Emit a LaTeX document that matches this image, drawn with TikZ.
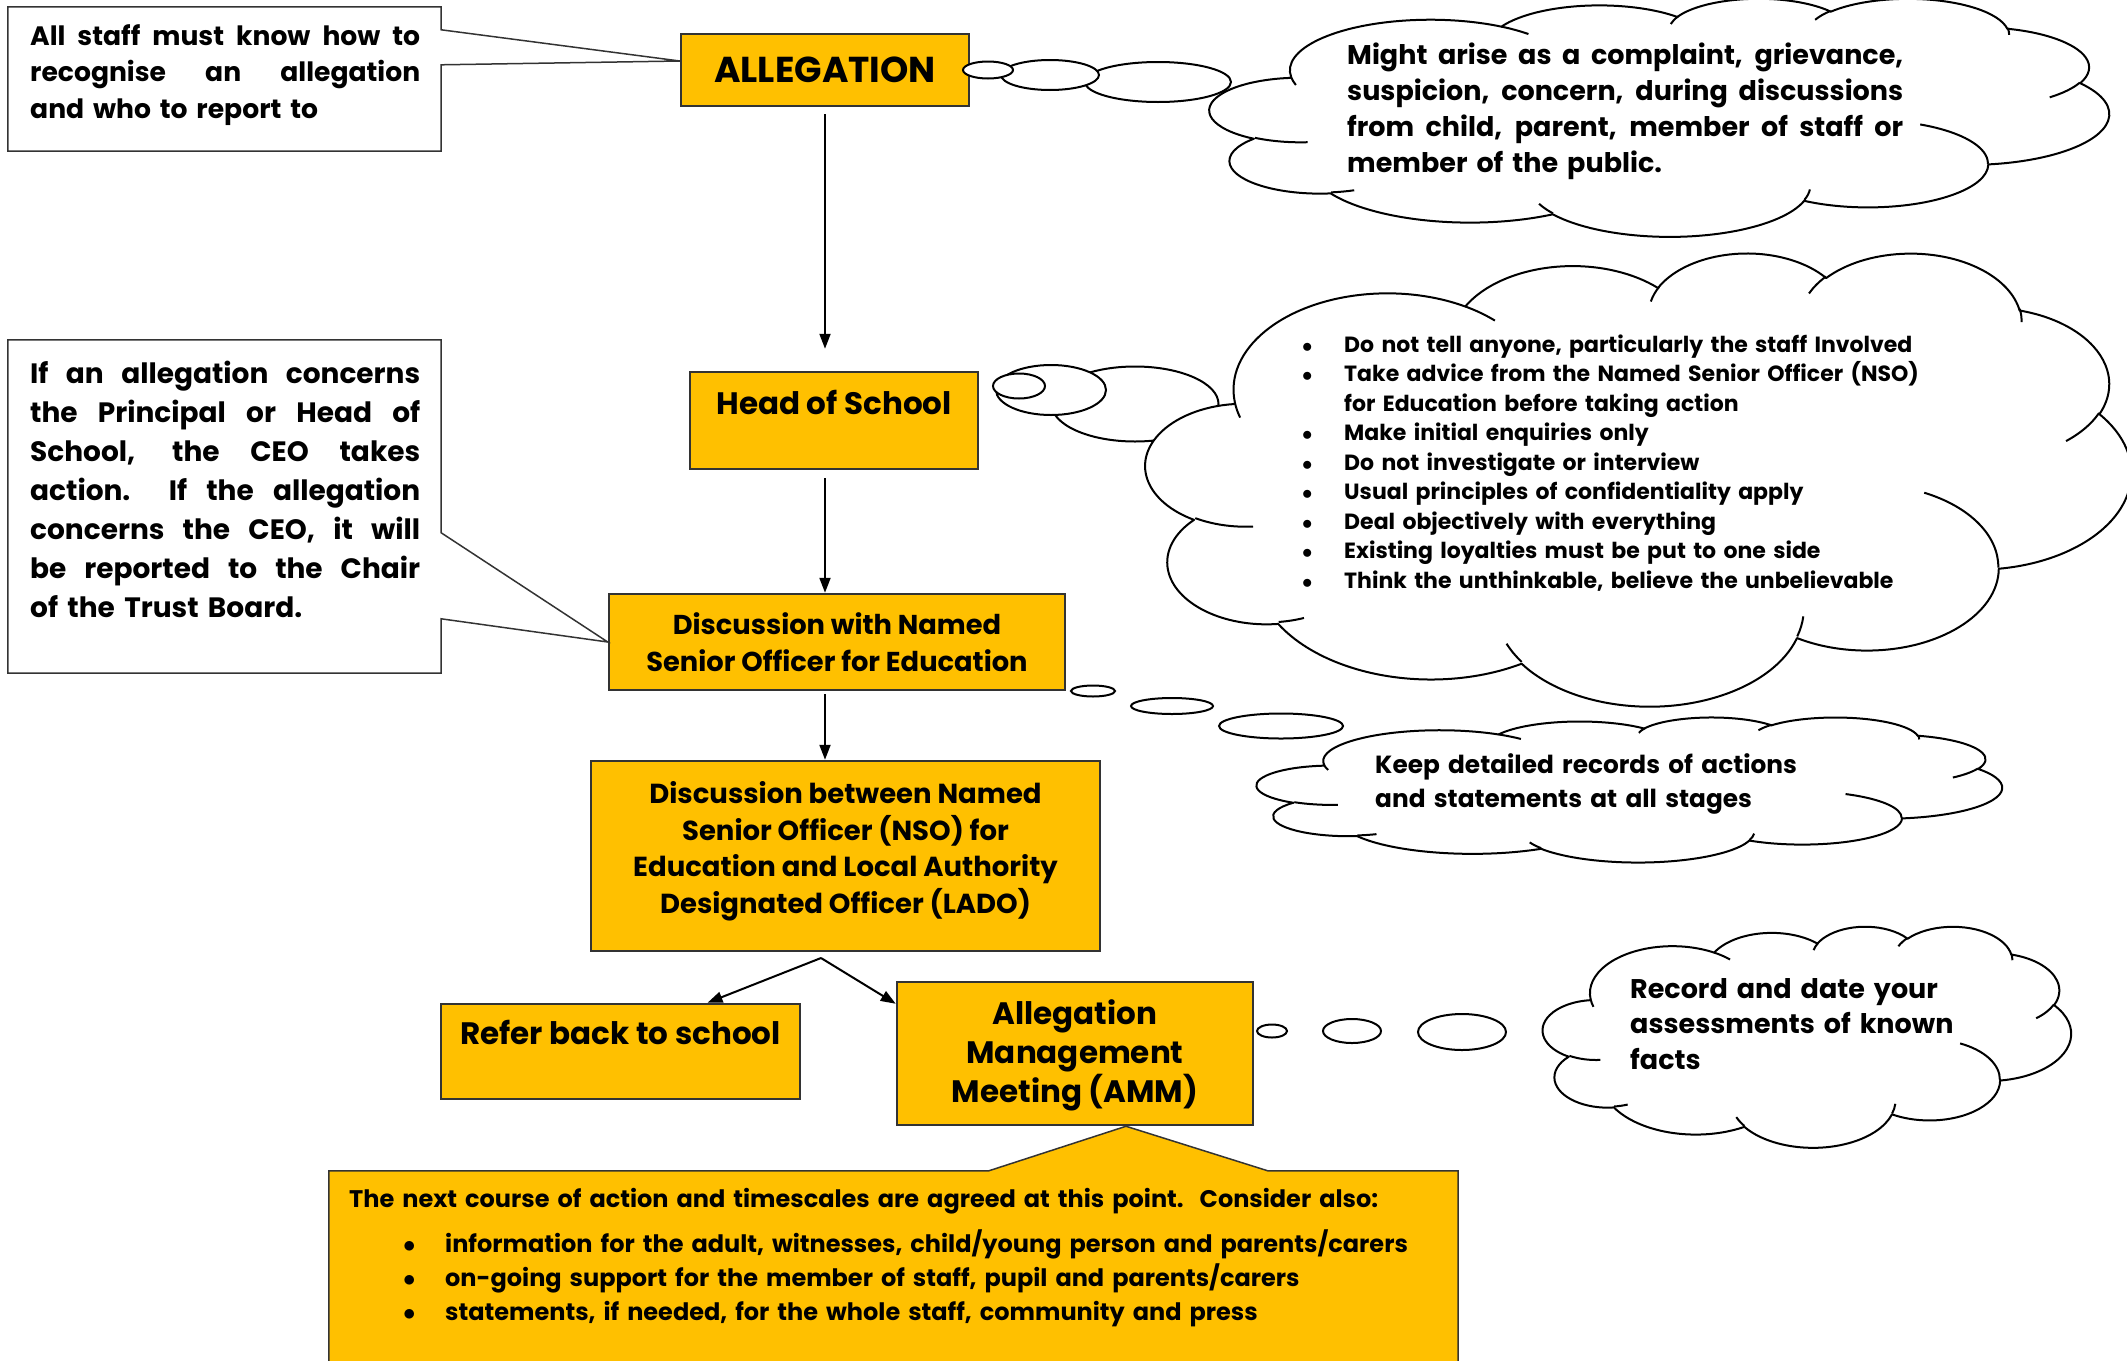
\documentclass[tikz,border=0pt]{standalone}
\usepackage{fontspec}
\setmainfont{Poppins}
\usetikzlibrary{positioning}
\usetikzlibrary{arrows.meta}
\usetikzlibrary{shapes.geometric}
\definecolor{amber}{HTML}{FFC000}
\definecolor{edge}{HTML}{333333}
\tikzstyle{stepbox}=[draw=edge,line width=2.5pt,fill=amber,align=center,inner sep=0pt]
\tikzstyle{note}=[draw=edge,line width=1.5pt,fill=white]
\tikzstyle{flow}=[line width=2pt,-{Triangle[length=15pt,width=11pt]}]
\tikzstyle{bubble}=[ellipse,draw,line width=2pt,fill=white,inner sep=0pt]
\tikzstyle{cloudline}=[line width=2pt,line join=round]
\tikzstyle{words}=[inner sep=0pt,anchor=base west,align=left]
\newcommand{\fullline}[2]{\makebox[#1][s]{\spaceskip=\fontdimen2\font plus 1fil\relax #2}}
\newcommand{\itm}{\makebox[42pt][l]{$\bullet$}}
% cloud outline in a 432 x 432 box, placed at (#1,#2) with size #3 x #4
\newcommand{\wordcloud}[4]{%
	\begin{scope}[shift={(#1,#2)},xscale=#3/432,yscale=#4/432]
		\filldraw[cloudline,fill=white] (39.00,143.70)
		arc[start angle=172.255,delta angle=128.085,x radius=67.53,y radius=91.90]
		arc[start angle=-152.02,delta angle=106.59,x radius=53.33,y radius=72.67]
		arc[start angle=-153.48,delta angle=116.16,x radius=43.65,y radius=59.45]
		arc[start angle=-139.69,delta angle=129.48,x radius=48.57,y radius=65.95]
		arc[start angle=-74.77,delta angle=97.98,x radius=53.33,y radius=72.73]
		arc[start angle=-37.52,delta angle=119.38,x radius=67.75,y radius=92.20]
		arc[start angle=0.46,delta angle=121.52,x radius=57.85,y radius=78.67]
		arc[start angle=16.84,delta angle=129.43,x radius=67.52,y radius=92.15]
		arc[start angle=58.98,delta angle=91.22,x radius=77.20,y radius=105.43]
		arc[start angle=83.31,delta angle=139.82,x radius=43.60,y radius=59.18]
		arc[start angle=120.35,delta angle=143.77,x radius=43.45,y radius=59.45]
		-- cycle;
		\draw[cloudline]
		(46.93,261.77) arc[start angle=85.55,delta angle=34.80,x radius=43.45,y radius=59.45]
		(69.28,348.99) arc[start angle=68.23,delta angle=15.08,x radius=43.60,y radius=59.18]
		(164.78,390.90) arc[start angle=146.27,delta angle=12.20,x radius=67.52,y radius=92.15]
		(288.27,347.51) arc[start angle=4.74,delta angle=12.10,x radius=67.52,y radius=92.15]
		(341.29,229.54) arc[start angle=-64.03,delta angle=64.49,x radius=57.85,y radius=78.67]
		(417.98,153.54) arc[start angle=23.21,delta angle=26.43,x radius=53.33,y radius=72.73]
		(383.24,54.26) arc[start angle=-10.21,delta angle=11.03,x radius=48.57,y radius=65.95]
		(290.78,39.52) arc[start angle=-156.29,delta angle=16.60,x radius=48.57,y radius=65.95]
		(221.41,47.20) arc[start angle=-167.73,delta angle=14.25,x radius=43.65,y radius=59.45]
		(140.00,51.92) arc[start angle=-59.66,delta angle=13.92,x radius=67.53,y radius=91.90]
		(41.27,157.89) arc[start angle=163.19,delta angle=9.07,x radius=67.53,y radius=91.90];
	\end{scope}}

\begin{document}
\begin{tikzpicture}[x=1pt,y=-1pt]
	\useasboundingbox (0,0) rectangle (2127,1360);
	
	% main flow
	\node [stepbox,minimum width=288pt,minimum height=72pt,font=\fontsize{36}{40}\selectfont\bfseries] (allegation) at (825,70) {ALLEGATION};
	\node [stepbox,minimum width=288pt,minimum height=97pt,font=\fontsize{31}{28}\selectfont\bfseries] (headschool) at (834,420.5) {Head of School\\ \strut};
	\node [stepbox,minimum width=456pt,minimum height=96pt,font=\fontsize{27.3}{37}\selectfont\bfseries] (namedso) at (837,642) {Discussion with Named\\Senior Officer for Education};
	\node [stepbox,minimum width=509pt,minimum height=190pt,text depth=17pt,font=\fontsize{27.5}{36.5}\selectfont\bfseries] (nsolado) at (845.5,856) {Discussion between Named\\Senior Officer (NSO) for\\Education and Local Authority\\Designated Officer (LADO)};
	\node [stepbox,minimum width=359pt,minimum height=95pt,font=\fontsize{31}{30}\selectfont\bfseries] (referback) at (620.5,1051.5) {Refer back to school\\ \strut};
	\node [stepbox,minimum width=356pt,minimum height=143pt,font=\fontsize{31}{39}\selectfont\bfseries] (amm) at (1075,1053.5) {\rule{0pt}{29pt}Allegation\\Management\\Meeting (AMM)};
	
	\draw[flow,shorten <=7pt,shorten >=22pt] (allegation.south) -- (allegation.south |- headschool.north);
	\draw[flow,shorten <=8pt] (allegation.south |- headschool.south) -- (allegation.south |- namedso.north);
	\draw[flow,shorten <=3pt] (allegation.south |- namedso.south) -- (allegation.south |- nsolado.north);
	\coordinate (split) at (821,958);
	\draw[flow] (split) -- ([xshift=87pt]referback.north);
	\draw[flow] (split) -- ([yshift=-23pt]amm.north west);
	
	% side notes
	\node [minimum width=433pt,minimum height=144pt,inner sep=0pt] (staffbox) at (224.5,79) {};
	\draw[note] (staffbox.north west) -- (staffbox.north east) -- ([yshift=-23pt]staffbox.north east) -- ([yshift=9pt]allegation.west) -- ([yshift=-58pt]staffbox.north east) -- (staffbox.south east) -- (staffbox.south west) -- cycle;
	\node [words,text width=390pt,font=\fontsize{26.6}{36.6}\selectfont\bfseries] (staffnote) at (30,45) {\fullline{390pt}{All staff must know how to}\\\fullline{390pt}{recognise an allegation}\\and who to report to};
	
	\node [minimum width=433pt,minimum height=333pt,inner sep=0pt] (ceobox) at (224.5,506.5) {};
	\draw[note] (ceobox.north west) -- (ceobox.north east) -- ([yshift=-193pt]ceobox.north east) -- (namedso.west) -- ([yshift=-279pt]ceobox.north east) -- (ceobox.south east) -- (ceobox.south west) -- cycle;
	\node [words,text width=390pt,font=\fontsize{28}{39}\selectfont\bfseries] (ceonote) at (30,383) {\fullline{390pt}{If an allegation concerns}\\\fullline{390pt}{the Principal or Head of}\\\fullline{390pt}{School, the CEO takes}\\\fullline{390pt}{action.\ \ If the allegation}\\\fullline{390pt}{concerns the CEO, it will}\\\fullline{390pt}{be reported to the Chair}\\of the Trust Board.};
	
	\node [minimum width=1129pt,minimum height=210pt,inner sep=0pt] (nextbox) at (893.5,1276) {};
	\draw[note,fill=amber] (nextbox.north west) -- ([xshift=660pt]nextbox.north west) -- ([xshift=51pt]amm.south) -- ([xshift=939pt]nextbox.north west) -- (nextbox.north east) -- (nextbox.south east) -- (nextbox.south west) -- cycle;
	\node [words,text width=1100pt,font=\fontsize{24}{34}\selectfont\bfseries] (nexttext) at (349,1207) {The next course of action and timescales are agreed at this point.\ \ Consider also:\\[11pt]
		\hspace*{54pt}\itm information for the adult, witnesses, child/young person and parents/carers\\
		\hspace*{54pt}\itm on-going support for the member of staff, pupil and parents/carers\\
		\hspace*{54pt}\itm statements, if needed, for the whole staff, community and press};
	
	% thought clouds
	\node [bubble,minimum width=146pt,minimum height=40pt] (rise3) at (1158,82) {};
	\node [bubble,minimum width=98pt,minimum height=30pt] (rise2) at (1050,75) {};
	\node [bubble,minimum width=50pt,minimum height=17pt] (rise1) at (988,70) {};
	\wordcloud{1210}{-2}{899}{238}
	\node [words,text width=556pt,font=\fontsize{27}{36}\selectfont\bfseries] (arisetext) at (1347,64) {\fullline{556pt}{Might arise as a complaint, grievance,}\\\fullline{556pt}{suspicion, concern, during discussions}\\\fullline{556pt}{from child, parent, member of staff or}\\member of the public.};
	
	\node [bubble,minimum width=167pt,minimum height=75pt] (advice3) at (1135,404) {};
	\node [bubble,minimum width=110pt,minimum height=50pt] (advice2) at (1051,390) {};
	\node [bubble,minimum width=52pt,minimum height=25pt] (advice1) at (1019,386) {};
	\wordcloud{1146}{252}{985}{453}
	\node [words,text width=700pt,font=\fontsize{22}{29.5}\selectfont\bfseries] (advicetext) at (1302,352) {\itm Do not tell anyone, particularly the staff Involved\\
		\itm Take advice from the Named Senior Officer (NSO)\\
		\hspace*{42pt}for Education before taking action\\
		\itm Make initial enquiries only\\
		\itm Do not investigate or interview\\
		\itm Usual principles of confidentiality apply\\
		\itm Deal objectively with everything\\
		\itm Existing loyalties must be put to one side\\
		\itm Think the unthinkable, believe the unbelievable};
	
	\node [bubble,minimum width=124pt,minimum height=25pt] (records3) at (1281,726) {};
	\node [bubble,minimum width=82pt,minimum height=16pt] (records2) at (1172,706) {};
	\node [bubble,minimum width=44pt,minimum height=11pt] (records1) at (1093,691) {};
	\wordcloud{1257}{717}{745}{145}
	\node [words,text width=600pt,font=\fontsize{24.8}{34}\selectfont\bfseries] (recordstext) at (1375,773) {Keep detailed records of actions\\and statements at all stages};
	
	\node [bubble,minimum width=88pt,minimum height=36pt] (facts3) at (1462,1032) {};
	\node [bubble,minimum width=58pt,minimum height=24pt] (facts2) at (1352,1031) {};
	\node [bubble,minimum width=30pt,minimum height=13pt] (facts1) at (1272,1031) {};
	\wordcloud{1543}{926}{528}{221}
	\node [words,text width=400pt,font=\fontsize{27}{35.5}\selectfont\bfseries] (factstext) at (1630,998) {Record and date your\\assessments of known\\facts};
\end{tikzpicture}
\end{document}
